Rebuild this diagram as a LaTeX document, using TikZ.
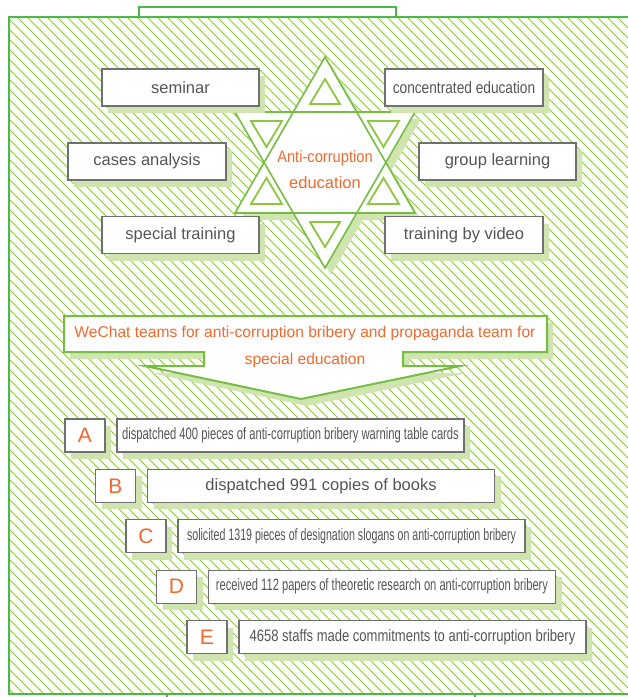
\documentclass[tikz,border=0pt]{standalone}
\usepackage{fontspec}
\setmainfont{Liberation Sans}
\usepackage{graphicx}
\usetikzlibrary{shadows}
\definecolor{framegreen}{RGB}{76,184,72}
\definecolor{hatchgreen}{RGB}{141,198,63}
\definecolor{shadowgreen}{RGB}{208,228,176}
\definecolor{stargreen}{RGB}{118,190,67}
\definecolor{boxgray}{RGB}{112,112,112}
\definecolor{textgray}{RGB}{85,85,85}
\definecolor{orangetext}{RGB}{241,105,45}
\newcommand{\cond}[2]{\scalebox{#1}[1]{#2}}
\begin{document}
\begin{tikzpicture}[x=1pt,y=-1pt,
  shadowed/.style={general shadow={shadow xshift=6pt,shadow yshift=-7pt,fill=shadowgreen}},
  itembox/.style={shadowed,draw=boxgray,line width=1.3pt,fill=white,text=textgray,inner sep=0pt,font=\fontsize{16.5}{19}\selectfont,minimum height=37pt},
  methodbox/.style={itembox,minimum width=157pt},
  letterbox/.style={itembox,text=orangetext,font=\fontsize{21}{24}\selectfont,minimum width=40pt,minimum height=33pt},
  factbox/.style={itembox,minimum width=347pt,minimum height=33pt},
  starline/.style={draw=stargreen,line width=1.6pt,line join=miter},
  innertri/.style={draw=hatchgreen,line width=1.8pt,fill=white,line join=miter},
  framestyle/.style={draw=framegreen,line width=2.5pt},
]
\useasboundingbox (0,0) rectangle (628,697);
\fill[white] (0,0) rectangle (628,697);
% hatched frame
\begin{scope}
\clip (9,17) rectangle (640,694);
\foreach \c in {-700,-690,...,640} \draw[hatchgreen,line width=0.9pt] (\c,0) -- ++(720,720);
\end{scope}
\draw[framestyle] (9,17) rectangle (640,694);
\draw[framestyle] (139,17) rectangle (396,7);
\draw[framestyle] (167,694) rectangle (475,706);

% star
\begin{scope}[shift={(6,7)}]
\fill[shadowgreen] (325,57) -- (235,213) -- (415,213) -- cycle;
\fill[shadowgreen] (325,268) -- (235,112) -- (415,112) -- cycle;
\end{scope}
\fill[white] (325,57) -- (235,213) -- (415,213) -- cycle;
\fill[white] (325,268) -- (235,112) -- (415,112) -- cycle;
\draw[starline] (325,57) -- (235,213) -- (415,213) -- cycle;
\draw[starline] (325,268) -- (235,112) -- (415,112) -- cycle;
\draw[innertri] (325,79) -- (310,104) -- (340,104) -- cycle;
\draw[innertri] (251,121) -- (282,121) -- (266.5,147) -- cycle;
\draw[innertri] (266.5,178) -- (251,204) -- (282,204) -- cycle;
\draw[innertri] (310,222) -- (340,222) -- (325,247) -- cycle;
\draw[innertri] (368,121) -- (399,121) -- (383.5,147) -- cycle;
\draw[innertri] (383.5,178) -- (368,204) -- (399,204) -- cycle;
\node[text=orangetext,align=center,font=\fontsize{16.5}{26}\selectfont] (star) at (325,170) {\cond{0.89}{Anti-corruption}\\education};

% methods
\node[methodbox] (seminar) at (180.5,87.5) {seminar};
\node[methodbox,minimum width=158pt] (cases) at (147,161.5) {cases analysis};
\node[methodbox] (special) at (180.5,235) {special training};
\node[methodbox,minimum width=158pt] (concentrated) at (464,87.5) {\cond{0.83}{concentrated education}};
\node[methodbox] (group) at (497.5,161.5) {group learning};
\node[methodbox,minimum width=158pt] (video) at (464,235) {training by video};

% callout arrow
\fill[shadowgreen,shift={(6,7)}] (64,316) -- (547,316) -- (547,352) -- (403,352) -- (403,366) -- (460,366) -- (301,399) -- (145,366) -- (204,366) -- (204,352) -- (64,352) -- cycle;
\draw[draw=stargreen,line width=2pt,fill=white,line join=miter] (64,316) -- (547,316) -- (547,352) -- (403,352) -- (403,366) -- (460,366) -- (301,399) -- (145,366) -- (204,366) -- (204,352) -- (64,352) -- cycle;
\node[text=orangetext,align=center,font=\fontsize{15.6}{27}\selectfont] (wechat) at (305,347) {WeChat teams for anti-corruption bribery and propaganda team for\\special education};

% facts
\node[letterbox] (la) at (85,435.5) {A};
\node[factbox] (fa) at (290.5,435.5) {\cond{0.68}{dispatched 400 pieces of anti-corruption bribery warning table cards}};
\node[letterbox] (lb) at (115.5,485.9) {B};
\node[factbox] (fb) at (321,485.9) {dispatched 991 copies of books};
\node[letterbox] (lc) at (146,536.3) {C};
\node[factbox] (fc) at (351.5,536.3) {\cond{0.645}{solicited 1319 pieces of designation slogans on anti-corruption bribery}};
\node[letterbox] (ld) at (176.5,586.7) {D};
\node[factbox] (fd) at (382,586.7) {\cond{0.676}{received 112 papers of theoretic research on anti-corruption bribery}};
\node[letterbox] (le) at (207,637.1) {E};
\node[factbox] (fe) at (412.5,637.1) {\cond{0.79}{4658 staffs made commitments to anti-corruption bribery}};
\end{tikzpicture}
\end{document}
